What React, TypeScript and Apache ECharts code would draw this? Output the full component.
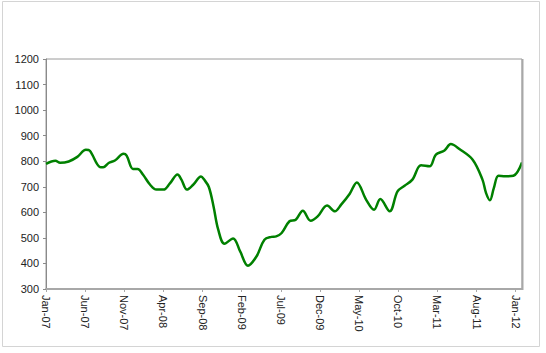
import React, { useEffect, useRef } from "react";
import * as echarts from "echarts";

const monthNames = ["Jan", "Feb", "Mar", "Apr", "May", "Jun", "Jul", "Aug", "Sep", "Oct", "Nov", "Dec"];
const startYear = 2007;

// month offsets from Jan-07 (fractional) and index values
const months = [
  0, 1.2, 1.8, 2.9, 4.0, 5.1, 5.6, 6.9, 7.3, 8.0,
  8.8, 9.9, 10.3, 11.1, 11.7, 12.4, 13.3, 14.1, 15.0, 15.8,
  16.8, 17.3, 18.0, 18.8, 19.8, 20.2, 20.8, 21.4, 22.0, 22.8,
  23.9, 24.8, 25.8, 26.9, 27.9, 28.8, 29.4, 30.1, 31.1, 31.9,
  32.8, 33.8, 34.7, 35.9, 36.9, 37.7, 38.8, 39.7, 40.9, 41.9,
  42.7, 43.9, 44.9, 45.8, 46.8, 47.9, 49.0, 49.8, 50.9, 51.7,
  52.8, 54.5, 55.75, 56.2, 56.7, 57.2, 57.8, 58.7, 59.7, 60.8,
];
const values = [
  790, 802, 794, 799, 817, 845, 841, 777, 776, 793,
  803, 829, 822, 770, 770, 747, 708, 689, 689, 712,
  748, 728, 689, 708, 740, 728, 699, 623, 532, 477,
  498, 447, 391, 428, 493, 504, 506, 519, 565, 571,
  606, 567, 584, 627, 604, 630, 673, 717, 649, 610,
  652, 604, 682, 704, 728, 784, 780, 826, 842, 867,
  848, 806, 728, 676, 647, 695, 743, 741, 743, 795,
];

const yMin = 300;
const yMax = 1200;
const yStep = 100;
const xStep = 5;
const xMax = 60.8;

function monthLabel(v: number): string {
  if (Math.abs(v - Math.round(v)) > 1e-6) return "";
  const m = Math.round(v);
  if (m % xStep !== 0) return "";
  const yr = startYear + Math.floor(m / 12);
  return monthNames[m % 12] + "-" + String(yr % 100).padStart(2, "0");
}

export default function App() {
  const ref = useRef<HTMLDivElement>(null);
  useEffect(() => {
    if (!ref.current) return;
    const chart = echarts.init(ref.current, undefined, { renderer: "svg" });
    const data = months.map((m, i) => [m, values[i]]);
    chart.setOption({
      animation: false,
      backgroundColor: "#ffffff",
      textStyle: { fontFamily: "Liberation Sans, Arial, sans-serif" },
      grid: {
        left: 46,
        top: 59,
        right: 24,
        bottom: 64,
        show: true,
        borderColor: "#9a9a9a",
        borderWidth: 1,
        backgroundColor: "#ffffff",
      },
      graphic: [
        {
          type: "rect",
          shape: { x: 2.5, y: 1.5, width: 537, height: 345 },
          style: { fill: "none", stroke: "#d4d4d4", lineWidth: 1 },
          silent: true,
          z: -1,
        },
        {
          type: "line",
          shape: { x1: 522.5, y1: 59, x2: 522.5, y2: 290 },
          style: { stroke: "#a8a8a8", lineWidth: 2 },
          silent: true,
          z: 5,
        },
      ],
      xAxis: {
        type: "value",
        min: 0,
        max: xMax,
        interval: xStep,
        splitLine: { show: false },
        axisLine: { show: true, lineStyle: { color: "#a8a8a8", width: 2 } },
        axisTick: { show: true, length: 3, lineStyle: { color: "#a8a8a8" } },
        axisLabel: {
          rotate: -90,
          color: "#222",
          fontSize: 11,
          margin: 6,
          showMaxLabel: false,
          formatter: (v: number) => monthLabel(v),
        },
      },
      yAxis: {
        type: "value",
        min: yMin,
        max: yMax,
        interval: yStep,
        splitLine: { show: false },
        axisLine: { show: true, lineStyle: { color: "#8a8a8a", width: 1 } },
        axisTick: { show: true, length: 3, lineStyle: { color: "#8a8a8a" } },
        axisLabel: { color: "#222", fontSize: 11, margin: 7, formatter: (v: number) => String(v) },
      },
      series: [
        {
          type: "line",
          data,
          smooth: 0.35,
          showSymbol: false,
          symbol: "none",
          lineStyle: { color: "#008000", width: 2.5 },
          z: 3,
        },
      ],
    });
    return () => chart.dispose();
  }, []);
  return (
    <div
      ref={ref}
      style={{ position: "absolute", left: 0, top: 0, width: 546, height: 353 }}
    />
  );
}
